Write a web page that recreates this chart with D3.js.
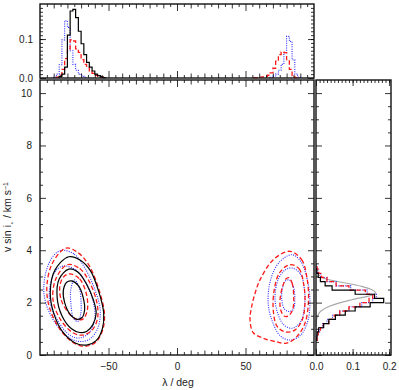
<!DOCTYPE html>
<html>
<head>
<meta charset="utf-8">
<script src="https://cdn.jsdelivr.net/npm/d3@7"></script>
<style>
body { margin: 0; background: #fff; }
text { font-family: "Liberation Sans", Arial, sans-serif; font-size: 10px; fill: #222; }
</style>
</head>
<body>
<svg width="399" height="390"></svg>
<script>
// lambda histograms (top panel), bins of 2 deg
var lamBinW = 2;
var lamBlackStart = -86;
var lamBlack = [0.004, 0.01, 0.028, 0.11, 0.172, 0.176, 0.155, 0.12, 0.088, 0.06, 0.04, 0.028, 0.018, 0.01, 0.006, 0.003, 0.001];
var lamRedLStart = -88;
var lamRedL = [0.002, 0.008, 0.022, 0.05, 0.075, 0.098, 0.095, 0.075, 0.066, 0.047, 0.035, 0.027, 0.018, 0.012, 0.007, 0.004, 0.002];
var lamBlueLStart = -90;
var lamBlueL = [0.002, 0.01, 0.034, 0.098, 0.147, 0.13, 0.07, 0.035, 0.02, 0.01, 0.005, 0.002];
var lamRedRStart = 56;
var lamRedR = [0.001, 0.001, 0.002, 0.003, 0.004, 0.007, 0.013, 0.025, 0.043, 0.06, 0.067, 0.065, 0.047, 0.022, 0.006, 0.001];
var lamBlueRStart = 68;
var lamBlueR = [0.002, 0.005, 0.01, 0.02, 0.035, 0.065, 0.107, 0.094, 0.047, 0.01, 0.002];

// v sin i histograms (right panel)
var vBinW = 0.16, vStart = 0.56;
var vBlack = [0.002, 0.003, 0.007, 0.021, 0.035, 0.053, 0.08, 0.107, 0.148, 0.185, 0.16, 0.107, 0.044, 0.025, 0.012, 0.006, 0.002];
var vRed = [0.003, 0.006, 0.012, 0.02, 0.035, 0.05, 0.065, 0.09, 0.12, 0.145, 0.155, 0.135, 0.09, 0.055, 0.03, 0.015, 0.007, 0.003];
var vBlue = [0.002, 0.005, 0.01, 0.018, 0.03, 0.045, 0.065, 0.09, 0.125, 0.155, 0.165, 0.14, 0.095, 0.055, 0.03, 0.013, 0.005, 0.002];
var grayV = [3.3, 3.07, 2.87, 2.75, 2.62, 2.49, 2.36, 2.3, 2.11, 1.98, 1.85, 1.66, 1.47, 1.28, 1.1];
var grayP = [0.0, 0.007, 0.035, 0.08, 0.125, 0.153, 0.163, 0.157, 0.098, 0.062, 0.035, 0.012, 0.004, 0.001, 0.0];

// contours [lambda, v sin i]
var blackOuterL = [[-79, 3.75], [-70, 3.6], [-63, 3.2], [-57, 2.4], [-53.5, 1.6], [-54.5, 1.0], [-59, 0.55], [-66, 0.38], [-74, 0.45], [-83, 0.85], [-90, 1.6], [-92.5, 2.4], [-89, 3.25]];
var blackMidL = [[-79, 3.28], [-72, 3.15], [-66, 2.7], [-61, 2.1], [-59, 1.6], [-61.5, 1.15], [-66, 0.9], [-71, 0.86], [-77, 1.0], [-84, 1.5], [-87.5, 2.2], [-86, 2.9]];
var blackInL = [[-77, 2.83], [-72, 2.65], [-68.5, 2.2], [-67.5, 1.7], [-69.5, 1.42], [-73.5, 1.37], [-78, 1.55], [-82, 2.0], [-83, 2.45], [-80.5, 2.78]];
var redOuterL = [[-81, 4.08], [-72, 3.9], [-64, 3.4], [-57, 2.5], [-53, 1.6], [-54, 1.0], [-59, 0.5], [-67, 0.33], [-75, 0.45], [-85, 0.95], [-93, 1.8], [-95, 2.6], [-91, 3.5]];
var redMidL = [[-80, 3.45], [-71, 3.3], [-64, 2.8], [-58.5, 2.0], [-58, 1.4], [-62, 0.95], [-69, 0.76], [-76, 0.85], [-85, 1.35], [-90.5, 2.1], [-88.5, 2.9]];
var redInL = [[-78, 3.1], [-71, 2.9], [-66, 2.3], [-65.5, 1.7], [-68.5, 1.38], [-73, 1.35], [-79, 1.6], [-84.5, 2.1], [-85.5, 2.65], [-82.5, 3.0]];
var blueOuterL = [[-84, 4.0], [-75, 3.85], [-67, 3.3], [-60, 2.5], [-56, 1.7], [-58, 1.0], [-64, 0.6], [-72, 0.52], [-81, 0.75], [-91, 1.4], [-97, 2.3], [-95.5, 3.2], [-90, 3.8]];
var blueMidL = [[-82, 3.4], [-74, 3.25], [-67, 2.8], [-61, 2.0], [-60, 1.4], [-64, 0.85], [-71, 0.65], [-78, 0.75], [-87, 1.3], [-93, 2.1], [-91.5, 2.9], [-87, 3.3]];
var blueInL = [[-75, 2.87], [-71.5, 2.6], [-70, 2.0], [-70.5, 1.5], [-72.5, 1.28], [-75.5, 1.4], [-77.5, 2.0], [-77.5, 2.5]];
var redOuterR = [[82.5, 3.96], [91, 3.64], [94.7, 3.0], [96, 2.1], [93.4, 1.21], [87.4, 0.7], [80, 0.45], [72.8, 0.5], [63, 0.64], [55.7, 0.85], [53.3, 1.34], [54.5, 1.85], [57, 2.36], [60.6, 2.87], [70.3, 3.64]];
var redMidR = [[82.5, 3.45], [89, 3.3], [92.5, 2.7], [93.4, 2.0], [91.5, 1.35], [86, 0.95], [79, 0.88], [73, 1.1], [70.3, 1.7], [71, 2.5], [75, 3.15]];
var redInR = [[81.5, 2.95], [84, 2.75], [85.2, 2.2], [84.5, 1.75], [81.5, 1.5], [78.5, 1.48], [75.8, 1.7], [75.2, 2.1], [77, 2.6], [79.5, 2.9]];
var blueOuterR = [[83.7, 3.83], [90, 3.6], [95, 2.9], [97, 2.1], [95.5, 1.3], [90, 0.75], [82, 0.57], [75, 0.75], [69.5, 1.3], [66.6, 1.95], [68, 2.8], [74, 3.5]];
var blueMidR = [[84, 3.32], [90, 3.1], [93, 2.5], [93, 1.8], [90, 1.25], [84, 1.02], [78, 1.15], [73.5, 1.6], [71.5, 2.2], [74, 2.9], [79, 3.25]];
var blueInR = [[82, 2.87], [85, 2.6], [86, 2.1], [85, 1.75], [82, 1.66], [78.5, 1.75], [76.5, 2.1], [77, 2.55], [79, 2.82]];

var svg = d3.select("svg");

var x = d3.scaleLinear().domain([-100, 100]).range([40, 314]),
    y = d3.scaleLinear().domain([0, 10.5]).range([355, 80]),
    hy = d3.scaleLinear().domain([0, 0.19]).range([78, 4]),
    hx = d3.scaleLinear().domain([0, 0.205]).range([316, 391]);

var sty = {
  black: {c: "#000", d: null, w: 1.2},
  red: {c: "#ff1a1a", d: "4.5,2.5", w: 1.3},
  blue: {c: "#2a2aff", d: "1,1.3", w: 1.1},
  gray: {c: "#a8a8a8", d: null, w: 1.1}
};

function stepPts(start, w, vals) {
  var pts = [[start, 0]];
  vals.forEach(function(v, i) {
    pts.push([start + i * w, v]);
    pts.push([start + (i + 1) * w, v]);
  });
  pts.push([start + vals.length * w, 0]);
  return pts;
}

function draw(d, s) {
  svg.append("path").attr("d", d).attr("fill", "none")
    .attr("stroke", sty[s].c).attr("stroke-width", sty[s].w)
    .attr("stroke-dasharray", sty[s].d);
}

// top histograms
var topLine = d3.line().x(function(d) { return x(d[0]); }).y(function(d) { return hy(d[1]); });
draw(topLine(stepPts(lamBlueLStart, lamBinW, lamBlueL)), "blue");
draw(topLine(stepPts(lamBlueRStart, lamBinW, lamBlueR)), "blue");
draw(topLine(stepPts(lamRedLStart, lamBinW, lamRedL)), "red");
draw(topLine(stepPts(lamRedRStart, lamBinW, lamRedR)), "red");
draw(topLine(stepPts(lamBlackStart, lamBinW, lamBlack)), "black");

// right histograms
var sideLine = d3.line().x(function(d) { return hx(d[1]); }).y(function(d) { return y(d[0]); });
draw(sideLine.curve(d3.curveMonotoneY)(grayV.map(function(v, i) { return [v, grayP[i]]; })), "gray");
sideLine.curve(d3.curveLinear);
draw(sideLine(stepPts(vStart, vBinW, vBlue)), "blue");
draw(sideLine(stepPts(vStart, vBinW, vRed)), "red");
draw(sideLine(stepPts(vStart, vBinW, vBlack)), "black");

// contours
var cont = d3.line().curve(d3.curveCatmullRomClosed.alpha(0.5))
  .x(function(d) { return x(d[0]); }).y(function(d) { return y(d[1]); });
[blueOuterL, blueMidL, blueInL, blueOuterR, blueMidR, blueInR].forEach(function(c) { draw(cont(c), "blue"); });
[redOuterL, redMidL, redInL, redOuterR, redMidR, redInR].forEach(function(c) { draw(cont(c), "red"); });
[blackOuterL, blackMidL, blackInL].forEach(function(c) { draw(cont(c), "black"); });

// ticks
function ax(gen, scale, tx, ty, vals, size, fmt, pad) {
  var a = gen(scale).tickValues(vals).tickSize(size).tickPadding(pad || 7).tickFormat(fmt || "");
  var g = svg.append("g").attr("transform", "translate(" + tx + "," + ty + ")").call(a);
  g.select(".domain").remove();
  g.selectAll("line").attr("stroke", "#000").attr("stroke-width", 0.8);
  return g;
}
var lamMinor = d3.range(-95, 100, 10), lamMid = d3.range(-90, 91, 10).filter(function(v) { return v % 50; }), lamMajor = [-50, 0, 50];
var vMinor = d3.range(0.5, 10.5, 0.5).filter(function(v) { return v % 2; }), vMajor = [0, 2, 4, 6, 8, 10];
var hMinor = d3.range(0.01, 0.19, 0.01), hMajor = [0, 0.1];
var pMinor = d3.range(0.01, 0.205, 0.01), pMajor = [0, 0.1, 0.2];
var f1 = d3.format(".1f");

// main panel
ax(d3.axisBottom, x, 0, 355, lamMinor, -3);
ax(d3.axisBottom, x, 0, 355, lamMid, -4.5);
ax(d3.axisBottom, x, 0, 355, lamMajor, -7, null, 8).selectAll("text").text(function(d) { return d3.format("")(d); });
ax(d3.axisTop, x, 0, 80, lamMinor, -3);
ax(d3.axisTop, x, 0, 80, lamMid, -4.5);
ax(d3.axisTop, x, 0, 80, lamMajor, -7);
ax(d3.axisLeft, y, 40, 0, vMinor, -3);
ax(d3.axisLeft, y, 40, 0, vMajor, -6, d3.format("d"), 8);
ax(d3.axisRight, y, 314, 0, vMinor, -3);
ax(d3.axisRight, y, 314, 0, vMajor, -6);

// top panel
ax(d3.axisBottom, x, 0, 78, lamMinor, -3);
ax(d3.axisBottom, x, 0, 78, lamMid, -4.5);
ax(d3.axisBottom, x, 0, 78, lamMajor, -7);
ax(d3.axisTop, x, 0, 4, lamMinor, -3);
ax(d3.axisTop, x, 0, 4, lamMid, -4.5);
ax(d3.axisTop, x, 0, 4, lamMajor, -7);
ax(d3.axisLeft, hy, 40, 0, hMinor, -3);
ax(d3.axisLeft, hy, 40, 0, hMajor, -6, f1, 7);
ax(d3.axisRight, hy, 314, 0, hMinor, -3);
ax(d3.axisRight, hy, 314, 0, hMajor, -6);

// right panel
ax(d3.axisBottom, hx, 0, 355, pMinor, -3);
ax(d3.axisBottom, hx, 0, 355, pMajor, -6, f1, 8);
ax(d3.axisTop, hx, 0, 80, pMinor, -3);
ax(d3.axisTop, hx, 0, 80, pMajor, -6);
ax(d3.axisLeft, y, 316, 0, vMinor, -3);
ax(d3.axisLeft, y, 316, 0, vMajor, -6);
ax(d3.axisRight, y, 391, 0, vMinor, -3);
ax(d3.axisRight, y, 391, 0, vMajor, -6);

// frames
[[40, 4, 314, 78], [40, 80, 314, 355], [316, 80, 391, 355]].forEach(function(r) {
  svg.append("rect").attr("x", r[0]).attr("y", r[1]).attr("width", r[2] - r[0]).attr("height", r[3] - r[1])
    .attr("fill", "none").attr("stroke", "#111").attr("stroke-width", 1.4);
});

// axis titles
svg.append("text").attr("x", 178).attr("y", 386).attr("text-anchor", "middle").style("font-size", "10.5px").text("λ / deg");
var yl = svg.append("text").attr("transform", "translate(11,217) rotate(-90)").attr("text-anchor", "middle").style("font-size", "10.5px");
yl.append("tspan").text("v sin i");
yl.append("tspan").attr("baseline-shift", "sub").style("font-size", "6px").text("⋆");
yl.append("tspan").text(" / km s");
yl.append("tspan").attr("baseline-shift", "super").style("font-size", "7px").text("−1");
</script>
</body>
</html>
